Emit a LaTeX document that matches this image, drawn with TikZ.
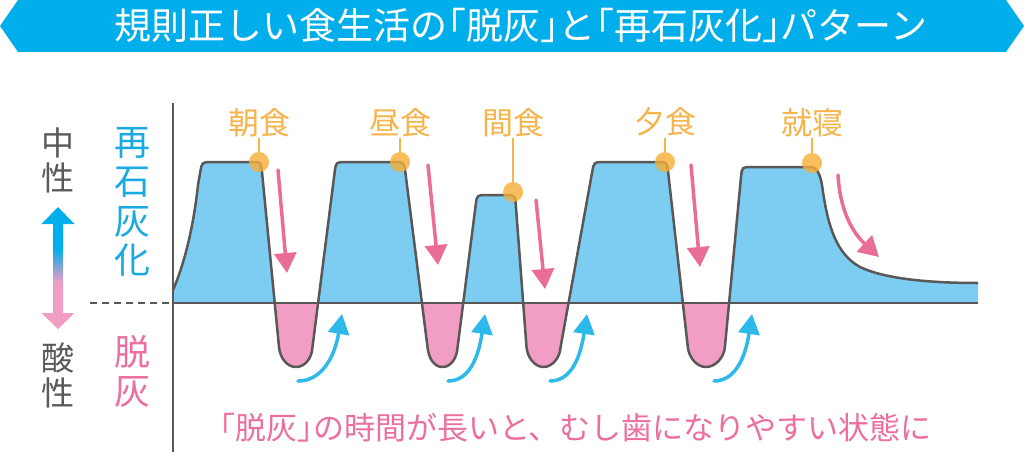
\documentclass[tikz,border=0pt]{standalone}
\usepackage{fontspec}
\setmainfont{Noto Sans CJK JP}
\usetikzlibrary{positioning}
\usetikzlibrary{arrows.meta}
\definecolor{bannercyan}{HTML}{00AEEB}
\definecolor{fillblue}{HTML}{7DCDF3}
\definecolor{fillpink}{HTML}{F29EC4}
\definecolor{linegray}{HTML}{595757}
\definecolor{mealorange}{HTML}{F5B54C}
\definecolor{dotorange}{HTML}{F7AE35}
\definecolor{arrowpink}{HTML}{EA6D98}
\definecolor{arrowcyan}{HTML}{2DBAEB}
\definecolor{textcyan}{HTML}{1AAAE2}
\definecolor{textpink}{HTML}{EC6F9E}
\definecolor{textgray}{HTML}{5A5A5A}
\pgfdeclareverticalshading{phshade}{100bp}{color(0bp)=(fillpink); color(44bp)=(fillpink); color(58bp)=(bannercyan); color(100bp)=(bannercyan)}
\newcommand\lbr{\hspace{-0.5em}「}
\newcommand\rbr{」\hspace{-0.5em}}
\newcommand\phcurve{(173,290) .. controls (186,260) and (194,222) .. (198,185)
  -- (200.3,171.9) .. controls (202,162) .. (212,162)
  -- (251,162) .. controls (261,162) .. (262,172) -- (279,347)
  .. controls (280,358) and (287,367) .. (296,367) .. controls (305,367) and (312,358) .. (312.5,347)
  -- (334.7,171.9) .. controls (336,162) .. (346,162)
  -- (394,162) .. controls (404,162) .. (405.3,171.9) -- (427.5,347)
  .. controls (428.5,358) and (434,367) .. (442.5,367) .. controls (451,367) and (457,358) .. (457.6,347)
  -- (475.7,204.9) .. controls (477,195) .. (487,195)
  -- (505,195) .. controls (515,195) .. (515.8,205) -- (526.5,347)
  .. controls (527.5,358) and (535,367) .. (543.5,367) .. controls (552,367) and (560,358) .. (560.6,347)
  -- (592.2,171.8) .. controls (594,162) .. (604,162)
  -- (657,162) .. controls (667,162) .. (668.1,171.9) -- (687.8,347)
  .. controls (689,358) and (697,367) .. (706,367) .. controls (715,367) and (724,358) .. (724.9,347)
  -- (741,177) .. controls (742,167) .. (752,167)
  -- (810,167)
  .. controls (818,167) and (821,176) .. (823,192)
  .. controls (828,225) and (836,254) .. (860,267)
  .. controls (885,279) and (930,283) .. (978,283)}

\begin{document}
\begin{tikzpicture}
    [x=1pt, y=-1pt,
    node distance=14pt,
    fallpost/.style={-{Triangle[width=22pt,length=20pt]},
                     arrowpink,
                     line width=3.5pt,
                     line cap=round},
    risepost/.style={-{Triangle[width=21pt,length=20pt]},
                     arrowcyan,
                     line width=3.5pt,
                     line cap=round},
    phline/.style={linegray,
                   line width=2.5pt,
                   line join=round},
    meal/.style={font=\fontsize{31pt}{33pt}\selectfont,
                 text=mealorange,
                 inner sep=1pt},
    dot/.style={circle,
                fill=dotorange,
                fill opacity=0.8,
                minimum size=20pt,
                inner sep=0pt},
    tick/.style={mealorange,
                 line width=1.5pt},
    side/.style={align=center,
                 inner sep=0pt}]
    \useasboundingbox (0,0) rectangle (1024,452);
    \fill[white] (0,0) rectangle (1024,452);
    \fill[bannercyan] (0,26) -- (18,0) -- (1006,0) -- (1024,26) -- (1006,52) -- (18,52) -- cycle;
    \node[font=\fontsize{37pt}{39pt}\selectfont,
          text=white] (Title) at (521,25) {規則正しい食生活の\lbr 脱灰\rbr と\lbr 再石灰化\rbr パターン};
    \begin{scope}
        \clip (173,0) rectangle (1024,303);
        \fill[fillblue] \phcurve -- (978,303) -- (173,303) -- cycle;
    \end{scope}
    \begin{scope}
        \clip (173,303) rectangle (1024,452);
        \fill[fillpink] \phcurve -- (978,303) -- (173,303) -- cycle;
    \end{scope}
    \draw[phline] \phcurve;
    \draw[phline] (173,303) -- (978,303);
    \draw[linegray, line width=2pt] (173,103) -- (173,452);
    \draw[linegray, line width=2pt, dash pattern=on 7pt off 5pt] (90,303) -- (173,303);
    \shade[shading=phshade] (58,207) -- (74.5,224) -- (63,224) -- (63,313) -- (74.5,313)
        -- (58,329) -- (41.5,313) -- (53,313) -- (53,224) -- (41.5,224) -- cycle;
    \node[side,
          text=textgray,
          font=\fontsize{33pt}{35pt}\selectfont] (Neutral) at (58,160) {中\\性};
    \node[side,
          text=textgray,
          font=\fontsize{33pt}{35pt}\selectfont] (Acidic) at (58,375) {酸\\性};
    \node[side,
          text=textcyan,
          font=\fontsize{36pt}{39.5pt}\selectfont] (Remin) at (132,202) {再\\石\\灰\\化};
    \node[side,
          text=textpink,
          font=\fontsize{36pt}{39pt}\selectfont] (Demin) at (132,371) {脱\\灰};
    \draw[fallpost] (278,170) -- (287,273);
    \draw[fallpost] (428,165) -- (438,265);
    \draw[fallpost] (536,200) -- (545,289);
    \draw[fallpost] (691,165) -- (700,267);
    \draw[fallpost] (838,175) .. controls (840,210) and (852,232) .. (879,257);
    \draw[risepost] (298,381) .. controls (320,381) and (334,360) .. (342,314);
    \draw[risepost] (448,381) .. controls (468,381) and (478,360) .. (485,314);
    \draw[risepost] (550,381) .. controls (570,381) and (580,360) .. (587,314);
    \draw[risepost] (714,381) .. controls (734,381) and (745,360) .. (752,314);
    \node[dot] (BreakfastDot) at (259,162) {};
    \node[dot] (LunchDot) at (400,162) {};
    \node[dot] (SnackDot) at (513,192) {};
    \node[dot] (DinnerDot) at (665,162) {};
    \node[dot] (BedtimeDot) at (812,163) {};
    \node[meal, above=of BreakfastDot] (Breakfast) {朝食};
    \node[meal, above=of LunchDot] (Lunch) {昼食};
    \node[meal, above=44pt of SnackDot] (Snack) {間食};
    \node[meal, above=of DinnerDot] (Dinner) {夕食};
    \node[meal, above=15pt of BedtimeDot] (Bedtime) {就寝};
    \draw[tick] (Breakfast) -- (BreakfastDot);
    \draw[tick] (Lunch) -- (LunchDot);
    \draw[tick] (Snack) -- (SnackDot);
    \draw[tick] (Dinner) -- (DinnerDot);
    \draw[tick] (Bedtime) -- (BedtimeDot);
    \node[font=\fontsize{31pt}{33pt}\selectfont,
          text=textpink] (Note) at (576,428) {\lbr 脱灰\rbr の時間が長いと、むし歯になりやすい状態に};
\end{tikzpicture}
\end{document}
